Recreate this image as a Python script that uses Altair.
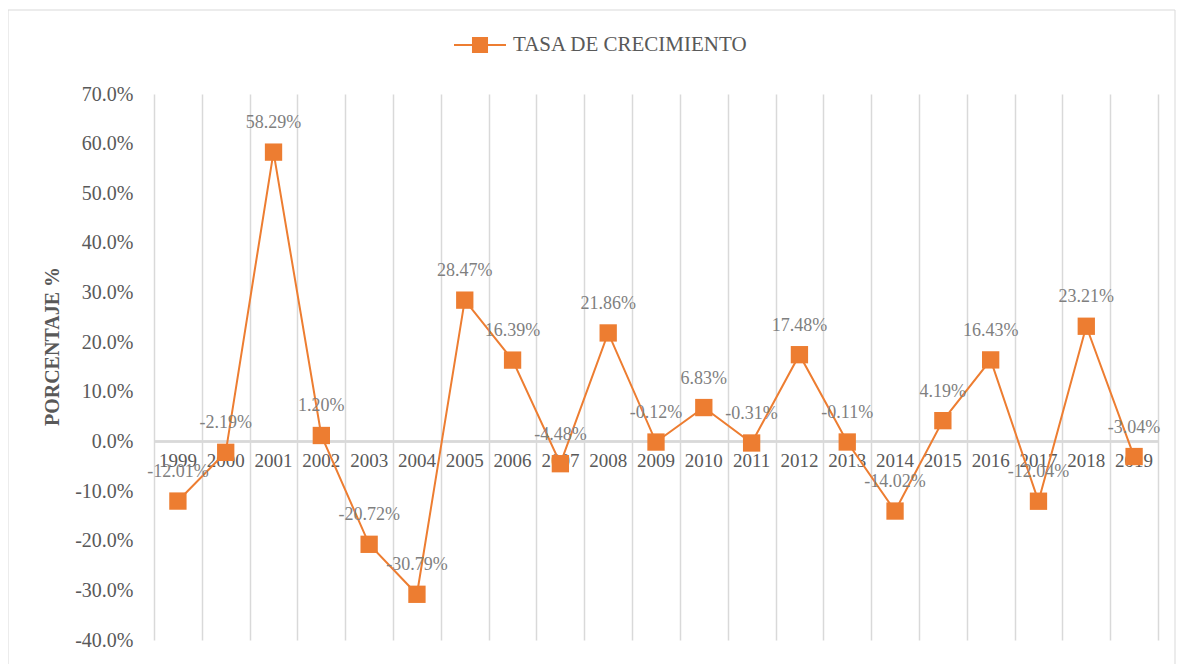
import altair as alt
import pandas as pd

years = ["1999", "2000", "2001", "2002", "2003", "2004", "2005", "2006", "2007", "2008",
         "2009", "2010", "2011", "2012", "2013", "2014", "2015", "2016", "2017", "2018", "2019"]
rates = [-12.01, -2.19, 58.29, 1.20, -20.72, -30.79, 28.47, 16.39, -4.48, 21.86,
         -0.12, 6.83, -0.31, 17.48, -0.11, -14.02, 4.19, 16.43, -12.04, 23.21, -3.04]
series_name = "TASA DE CRECIMIENTO"
y_ticks = [-0.4, -0.3, -0.2, -0.1, 0.0, 0.1, 0.2, 0.3, 0.4, 0.5, 0.6, 0.7]

ORANGE = "#ED7D31"
GRID = "#d9d9d9"
TXT = "#595959"
FONT = "'Liberation Serif', 'Times New Roman', serif"

df = pd.DataFrame({
    "year": years,
    "idx": list(range(len(years))),
    "rate": [r / 100 for r in rates],
    "label": [f"{r:.2f}%" for r in rates],
    "serie": series_name,
})

n = len(years)
bounds = [i - 0.5 for i in range(n + 1)]

xscale = alt.Scale(domain=[-0.5, n - 0.5], nice=False, zero=False)
yscale = alt.Scale(domain=[-0.4, 0.7], nice=False)

x_enc = alt.X("idx:Q", scale=xscale,
              axis=alt.Axis(values=bounds, grid=True, gridColor=GRID, gridWidth=1.5,
                            labels=False, ticks=False, domain=False, title=None))
y_enc = alt.Y("rate:Q", scale=yscale,
              axis=alt.Axis(values=y_ticks, grid=False, ticks=False, domain=False,
                            labelExpr="replace(format(datum.value, '.1%'), '\u2212', '-')",
                            labelFont=FONT, labelFontSize=20, labelColor=TXT, labelPadding=21,
                            title="PORCENTAJE  %", titleFont=FONT, titleFontSize=20,
                            titleFontWeight="bold", titleColor=TXT, titleX=-102, titleY=252,
                            titleAngle=270, titleBaseline="middle"))

legend_path = "M-1,0L-0.27,0M0.27,0L1,0M-0.27,-0.27L0.27,-0.27L0.27,0.27L-0.27,0.27Z"
color_enc = alt.Color("serie:N", scale=alt.Scale(range=[ORANGE]),
                      legend=alt.Legend(orient="none", legendX=299, legendY=-76, title=None,
                                        symbolType=legend_path, symbolSize=2704,
                                        symbolStrokeWidth=2, symbolFillColor=ORANGE,
                                        symbolStrokeColor=ORANGE, labelLimit=400,
                                        labelFont=FONT, labelFontSize=21, labelColor=TXT,
                                        labelOffset=6))

base = alt.Chart(df)

border = base.mark_rect(fill="transparent", stroke=GRID, strokeWidth=1).encode(
    x=alt.value(-146), x2=alt.value(1021), y=alt.value(-84), y2=alt.value(600)
).transform_filter("datum.idx == 0")

zero = base.mark_rule(color=GRID, strokeWidth=1.5).encode(y=alt.datum(0, scale=yscale))

line = base.mark_line(strokeWidth=2).encode(x=x_enc, y=y_enc, color=color_enc)
pts = base.mark_square(size=300, opacity=1, filled=True).encode(
    x="idx:Q", y="rate:Q", color=alt.Color("serie:N", legend=None))

labels = base.mark_text(font=FONT, fontSize=18, color="#7f7f7f", dy=-29, baseline="middle").encode(
    x="idx:Q", y="rate:Q", text="label:N")

year_labels = base.mark_text(font=FONT, fontSize=19, color=TXT, dy=20, baseline="middle").encode(
    x="idx:Q", y=alt.datum(0), text="year:N")

chart = alt.layer(border, zero, year_labels, line, pts, labels).properties(
    width=1004, height=546,
    padding={"left": 146, "top": 86, "right": 18, "bottom": 24},
    autosize=alt.AutoSizeParams(type="none"),
).configure_view(stroke=None)

chart.save("out.html", embed_options={"renderer": "svg", "actions": False})
